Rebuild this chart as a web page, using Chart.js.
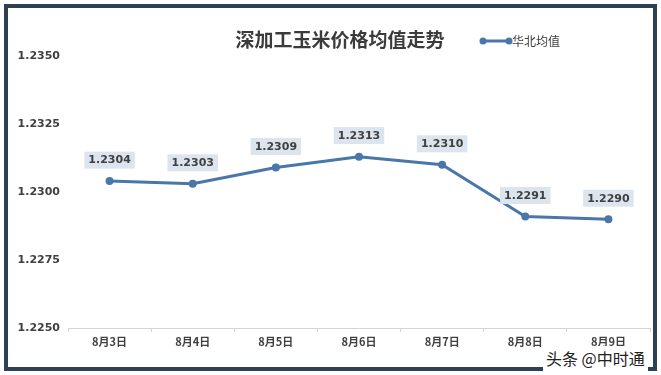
<!DOCTYPE html>
<html>
<head>
<meta charset="utf-8">
<script src="https://cdn.jsdelivr.net/npm/chart.js@4"></script>
<style>
  html, body { margin: 0; padding: 0; background: #fff; }
  #wrap { position: relative; width: 661px; height: 375px; }
  #frame {
    position: absolute; left: 4px; top: 4px; width: 645px; height: 359px;
    border: 4px solid #2d4154; pointer-events: none;
  }
  #mark {
    position: absolute; left: 543px; top: 346px; padding: 0 3px 1px 3px; line-height: 19px;
    background: #fff; color: #222; font: 16px "Noto Sans CJK SC", sans-serif;
  }
</style>
</head>
<body>
<div id="wrap">
  <canvas id="chart" width="661" height="375"></canvas>
  <div id="frame"></div>
  <div id="mark">头条 @中时通</div>
</div>
<script>
// 数据
const labels = ['8月3日', '8月4日', '8月5日', '8月6日', '8月7日', '8月8日', '8月9日'];
const values = [1.2304, 1.2303, 1.2309, 1.2313, 1.2310, 1.2291, 1.2290];
const seriesName = '华北均值';
const titleText = '深加工玉米价格均值走势';
const yMin = 1.2250, yMax = 1.2350, yStep = 0.0025;

const lineColor = '#4a76aa';
const textColor = '#404040';

// 标题、图例、数据标签
const decorPlugin = {
  id: 'decor',
  afterDatasetsDraw(chart) {
    const ctx = chart.ctx;
    ctx.save();
    // 数据标签
    const meta = chart.getDatasetMeta(0);
    ctx.font = 'bold 11px "DejaVu Sans", sans-serif';
    ctx.textAlign = 'center';
    ctx.textBaseline = 'middle';
    meta.data.forEach((pt, i) => {
      const txt = values[i].toFixed(4);
      const w = ctx.measureText(txt).width + 8;
      const h = 17;
      const cx = pt.x, cy = pt.y - 21;
      ctx.fillStyle = '#dce4ee';
      ctx.fillRect(cx - w / 2, cy - h / 2, w, h);
      ctx.fillStyle = textColor;
      ctx.fillText(txt, cx, cy + 0.5);
    });
    // 标题
    ctx.font = 'bold 19px "Noto Sans CJK SC", sans-serif';
    ctx.fillStyle = '#3b3b3b';
    ctx.fillText(titleText, 340, 40);
    // 图例
    ctx.strokeStyle = lineColor;
    ctx.lineWidth = 3;
    ctx.beginPath();
    ctx.moveTo(483, 41);
    ctx.lineTo(509, 41);
    ctx.stroke();
    ctx.fillStyle = lineColor;
    [483, 509].forEach(x => {
      ctx.beginPath();
      ctx.arc(x, 41, 3.5, 0, Math.PI * 2);
      ctx.fill();
    });
    ctx.font = '12px "Noto Sans CJK SC", sans-serif';
    ctx.fillStyle = textColor;
    ctx.textAlign = 'left';
    ctx.fillText(seriesName, 512, 41);
    ctx.restore();
  }
};

new Chart(document.getElementById('chart'), {
  type: 'line',
  data: {
    labels: labels,
    datasets: [{
      label: seriesName,
      data: values,
      borderColor: lineColor,
      backgroundColor: lineColor,
      borderWidth: 3,
      pointRadius: 4,
      pointBackgroundColor: lineColor,
      pointBorderWidth: 0,
      tension: 0
    }]
  },
  options: {
    responsive: false,
    animation: false,
    layout: { padding: { top: 56, right: 11, bottom: 20, left: 0 } },
    plugins: {
      legend: { display: false },
      title: { display: false },
      tooltip: { enabled: false }
    },
    scales: {
      x: {
        offset: true,
        grid: { display: true, drawOnChartArea: false, tickLength: 4, color: '#d4d4d4', offset: true },
        border: { display: true, color: '#d4d4d4' },
        ticks: {
          color: textColor,
          padding: 3,
          font: { family: '"Noto Sans CJK SC", sans-serif', size: 11, weight: 'bold' }
        },
        afterFit(scale) { scale.height = 27; }
      },
      y: {
        min: yMin,
        max: yMax,
        grid: { display: false, drawTicks: false },
        border: { display: false },
        ticks: {
          stepSize: yStep,
          padding: 8,
          color: textColor,
          font: { family: '"DejaVu Sans", sans-serif', size: 11, weight: 'bold' },
          callback: v => Number(v).toFixed(4)
        },
        afterFit(scale) { scale.width = 68; }
      }
    }
  },
  plugins: [decorPlugin]
});
</script>
</body>
</html>
